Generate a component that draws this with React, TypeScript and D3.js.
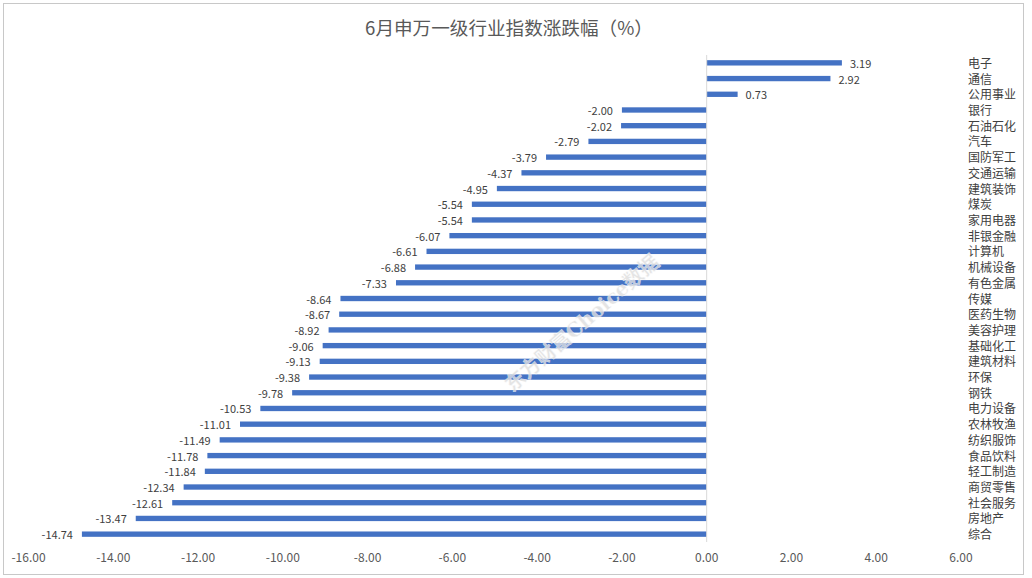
import React from "react";
import * as d3 from "d3";

const categories: string[] = [
  "电子", "通信", "公用事业", "银行", "石油石化", "汽车", "国防军工", "交通运输",
  "建筑装饰", "煤炭", "家用电器", "非银金融", "计算机", "机械设备", "有色金属",
  "传媒", "医药生物", "美容护理", "基础化工", "建筑材料", "环保", "钢铁",
  "电力设备", "农林牧渔", "纺织服饰", "食品饮料", "轻工制造", "商贸零售",
  "社会服务", "房地产", "综合",
];
const values: number[] = [
  3.19, 2.92, 0.73, -2.0, -2.02, -2.79, -3.79, -4.37, -4.95, -5.54, -5.54, -6.07,
  -6.61, -6.88, -7.33, -8.64, -8.67, -8.92, -9.06, -9.13, -9.38, -9.78, -10.53,
  -11.01, -11.49, -11.78, -11.84, -12.34, -12.61, -13.47, -14.74,
];
const xTicks: number[] = [-16, -14, -12, -10, -8, -6, -4, -2, 0, 2, 4, 6];
const title = "6月申万一级行业指数涨跌幅（%）";
const watermark = "东方财富Choice数据";

const W = 1032;
const H = 578;
const FONT = "'Noto Sans CJK SC', 'Microsoft YaHei', sans-serif";

export default function App() {
  const x = d3.scaleLinear().domain([-16, 6]).range([28.5, 961]);
  const y = d3
    .scaleBand<string>()
    .domain(categories)
    .range([55, 542])
    .paddingInner(0.66)
    .paddingOuter(0.33);
  const bw = y.bandwidth();
  const f2 = d3.format(".2f");
  const fmt = (v: number) => f2(v).replace("\u2212", "-");

  return (
    <div style={{ position: "fixed", left: 0, top: 0 }}>
      <svg width={W} height={H} style={{ display: "block", fontFamily: FONT }}>
        <rect x={0} y={0} width={W} height={H} fill="#ffffff" />
        <rect x={3.5} y={3.5} width={1020} height={571} fill="none" stroke="#c8c8c8" strokeWidth={1} />
        <text x={509} y={26} textAnchor="middle" dominantBaseline="central" fontSize={18.6} fill="#595959">
          {title}
        </text>
        {categories.map((c, i) => {
          const v = values[i];
          const yy = y(c)!;
          const x0 = x(Math.min(0, v));
          const x1 = x(Math.max(0, v));
          return (
            <rect key={"b" + c} x={x0} y={yy} width={x1 - x0} height={bw} fill="#4472C4" />
          );
        })}
        <line x1={x(0)} x2={x(0)} y1={55} y2={542} stroke="#d9d9d9" strokeWidth={1} />
        {categories.map((c, i) => {
          const v = values[i];
          const cy = y(c)! + bw / 2;
          return (
            <text
              key={"v" + c}
              x={v >= 0 ? x(v) + 8 : x(v) - 9}
              y={cy}
              textAnchor={v >= 0 ? "start" : "end"}
              dominantBaseline="central"
              fontSize={11}
              fill="#404040"
            >
              {fmt(v)}
            </text>
          );
        })}
        {categories.map((c) => (
          <text
            key={"c" + c}
            x={968}
            y={y(c)! + bw / 2 - 0.5}
            dominantBaseline="central"
            fontSize={12}
            fill="#404040"
          >
            {c}
          </text>
        ))}
        {xTicks.map((t) => (
          <text
            key={"t" + t}
            x={x(t)}
            y={556}
            textAnchor="middle"
            dominantBaseline="central"
            fontSize={12}
            fill="#595959"
          >
            {fmt(t)}
          </text>
        ))}
        <text
          x={582}
          y={323}
          transform="rotate(-41 582 323)"
          textAnchor="middle"
          dominantBaseline="central"
          fontSize={20}
          fontWeight="bold"
          fontFamily="'DejaVu Serif', 'Noto Sans CJK SC', serif"
          fill="#dedede"
          stroke="#ffffff"
          strokeWidth={0.4}
          opacity={0.8}
        >
          {watermark}
        </text>
      </svg>
    </div>
  );
}
